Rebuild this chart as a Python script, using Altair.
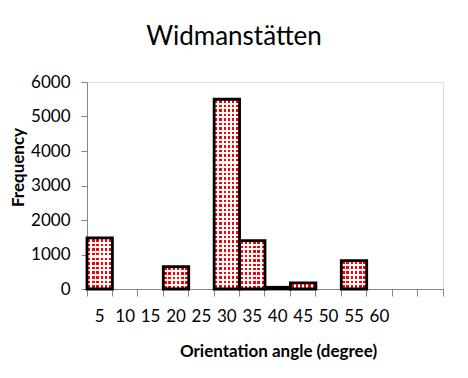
import altair as alt

# ---- data ----
angles = [5, 10, 15, 20, 25, 30, 35, 40, 45, 50, 55, 60, 65, 70]
frequency = [1480, 0, 0, 650, 0, 5500, 1400, 50, 180, 0, 820, 0, 0, 0]
y_ticks = [0, 1000, 2000, 3000, 4000, 5000, 6000]

Y_MAX = 6000
PLOT_W = 356
PLOT_H = 207
FONT = "Lato"
GREY = "#868686"


def column_gradient(n=6, frac=0.55):
    """vertical red/white stripes (dot columns)"""
    stops = [{"offset": 0, "color": "#ffffff"}]
    for i in range(n):
        a = (i + (1 - frac) / 2) / n
        b = (i + (1 + frac) / 2) / n
        stops += [
            {"offset": a, "color": "#ffffff"},
            {"offset": a, "color": "#ff0000"},
            {"offset": b, "color": "#ff0000"},
            {"offset": b, "color": "#ffffff"},
        ]
    stops.append({"offset": 1, "color": "#ffffff"})
    return {"gradient": "linear", "x1": 0, "y1": 0, "x2": 1, "y2": 0, "stops": stops}


def row_gradient(value, period=4.5, frac=0.55):
    """white mask with transparent rows, a few px apart"""
    h = value / Y_MAX * PLOT_H
    n = max(1, round(h / period))
    W = "rgba(255,255,255,1)"
    T = "rgba(255,255,255,0)"
    stops = [{"offset": 0, "color": W}]
    for i in range(n):
        a = (i + (1 - frac) / 2) / n
        b = (i + (1 + frac) / 2) / n
        stops += [
            {"offset": a, "color": W},
            {"offset": a, "color": T},
            {"offset": b, "color": T},
            {"offset": b, "color": W},
        ]
    stops.append({"offset": 1, "color": W})
    return {"gradient": "linear", "x1": 0, "y1": 0, "x2": 0, "y2": 1, "stops": stops}


records = [
    {"angle": a, "frequency": f, "mask": row_gradient(f)}
    for a, f in zip(angles, frequency)
]
data = alt.Data(values=records)

x_enc = alt.X(
    "angle:O",
    sort=angles,
    scale=alt.Scale(domain=angles, paddingInner=0, paddingOuter=0),
    axis=alt.Axis(
        title="Orientation angle (degree)",
        titleFont=FONT,
        titleFontSize=17,
        titleFontWeight="bold",
        titleColor="black",
        titleX=191,
        titleY=67,
        titleAlign="center",
        titleBaseline="alphabetic",
        labelFont=FONT,
        labelFontSize=17,
        labelColor="black",
        labelAngle=0,
        labelPadding=12,
        labelExpr="datum.value > 60 ? '' : datum.label",
        bandPosition=1,
        tickExtra=True,
        tickSize=7,
        tickColor=GREY,
        domainColor=GREY,
        tickWidth=1,
        domainWidth=1,
    ),
)

y_enc = alt.Y(
    "frequency:Q",
    stack=None,
    scale=alt.Scale(domain=[0, Y_MAX], nice=False),
    axis=alt.Axis(
        values=y_ticks,
        format="d",
        title="Frequency",
        titleFont=FONT,
        titleFontSize=17,
        titleFontWeight="bold",
        titleColor="black",
        titleX=-69,
        titleY=85,
        titleAngle=270,
        titleAlign="center",
        titleBaseline="middle",
        labelFont=FONT,
        labelFontSize=17,
        labelColor="black",
        labelPadding=11,
        tickSize=6,
        tickColor=GREY,
        domainColor=GREY,
        grid=False,
        tickWidth=1,
        domainWidth=1,
    ),
)

base = alt.Chart(data).transform_filter("datum.frequency > 0")

dots = base.mark_bar(fill=column_gradient(), strokeWidth=0).encode(x=x_enc, y=y_enc)
mask = base.mark_bar(stroke="black", strokeWidth=2.8).encode(
    x=x_enc,
    y=y_enc,
    fill=alt.Fill(field="mask", type="nominal", scale=None, legend=None),
)

chart = (
    alt.layer(dots, mask)
    .properties(
        width=PLOT_W,
        height=PLOT_H,
        padding={"left": 79, "top": 74, "right": 17, "bottom": 81},
        autosize=alt.AutoSizeParams(type="none"),
        title=alt.TitleParams(
            "Widmanstätten",
            font=FONT,
            fontSize=26,
            fontWeight="normal",
            color="black",
            anchor="middle",
            dx=-31,
            offset=23,
        ),
    )
    .configure_view(stroke=None)
    .configure(background="white")
)

chart.save("out.html", embed_options={"renderer": "svg", "actions": False})
